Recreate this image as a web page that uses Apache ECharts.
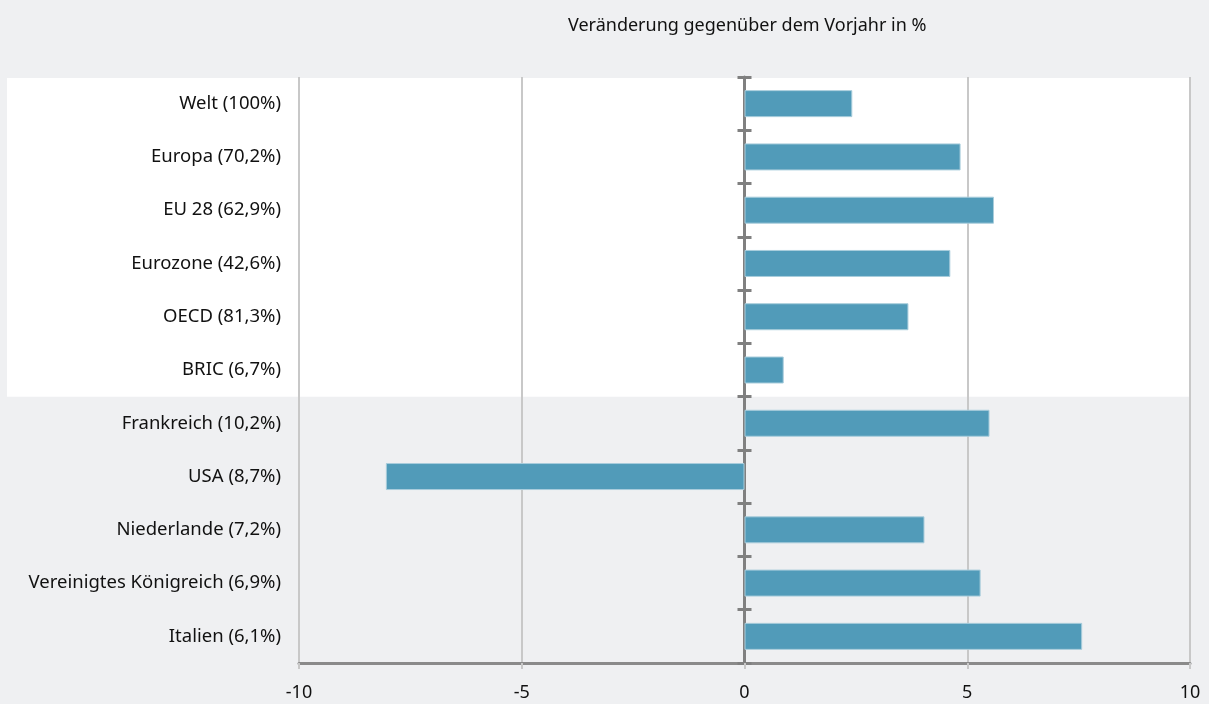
<!DOCTYPE html>
<html>
  <head>
    <meta charset="utf-8">
    <title>Veränderung gegenüber dem Vorjahr</title>
    <script src="https://cdn.jsdelivr.net/npm/echarts@6/dist/echarts.min.js"></script>
    <style>
      html, body { margin: 0; padding: 0; background: #eff0f2; }
      #chart { width: 1209px; height: 704px; }
    </style>
  </head>
  <body>
    <div id="chart"></div>
  </body>
  <script>
    // Länder / Regionen (Anteil in Klammern)
    var categories = ['Welt (100%)', 'Europa (70,2%)', 'EU 28 (62,9%)', 'Eurozone (42,6%)', 'OECD (81,3%)', 'BRIC (6,7%)',
                      'Frankreich (10,2%)', 'USA (8,7%)', 'Niederlande (7,2%)', 'Vereinigtes Königreich (6,9%)', 'Italien (6,1%)'];
    // Veränderung in %
    var values = [2.42, 4.85, 5.6, 4.62, 3.68, 0.88, 5.5, -8.05, 4.04, 5.3, 7.58];
    var xTicks = [-10, -5, 0, 5, 10];
    var highlightCount = 6; // erste Gruppe mit weißem Hintergrund

    var font = '"Noto Sans", sans-serif';
    var myChart = echarts.init(document.getElementById('chart'));
    var option = {
      backgroundColor: '#eff0f2',
      animation: false,
      title: {
        text: 'Veränderung gegenüber dem Vorjahr in %',
        left: 563,
        top: 12,
        textStyle: { fontFamily: font, fontSize: 18, fontWeight: 'normal', color: '#111111' }
      },
      grid: { left: 299, right: 19, top: 77, bottom: 41 },
      xAxis: {
        type: 'value',
        min: xTicks[0],
        max: xTicks[xTicks.length - 1],
        interval: 5,
        axisLine: { show: true, onZero: false, lineStyle: { color: '#8a8a8a', width: 3 } },
        axisTick: { show: true, length: 6, lineStyle: { color: '#c8c8c8', width: 2 } },
        splitLine: { show: true, lineStyle: { color: '#c8c8c8', width: 2 } },
        axisLabel: { fontFamily: font, fontSize: 18, color: '#111111', margin: 21 }
      },
      yAxis: [
        {
          // Beschriftung links
          type: 'category',
          data: categories,
          inverse: true,
          axisLine: { show: false, onZero: false },
          axisTick: { show: false },
          axisLabel: { fontFamily: font, fontSize: 18.5, color: '#111111', margin: 18 }
        },
        {
          // Achse bei 0, Striche nach rechts
          type: 'category',
          data: categories,
          inverse: true,
          position: 'right',
          axisLine: { show: true, onZero: true, onZeroAxisIndex: 0, lineStyle: { color: '#808080', width: 3 } },
          axisTick: { show: true, length: 7, lineStyle: { color: '#808080', width: 3 } },
          axisLabel: { show: false }
        },
        {
          // Striche nach links
          type: 'category',
          data: categories,
          inverse: true,
          position: 'left',
          axisLine: { show: false, onZero: true, onZeroAxisIndex: 0 },
          axisTick: { show: true, length: 7, lineStyle: { color: '#808080', width: 3 } },
          axisLabel: { show: false }
        }
      ],
      series: [
        {
          type: 'bar',
          yAxisIndex: 0,
          data: values,
          barWidth: 27,
          itemStyle: { color: '#519bb9', borderColor: '#a9cddc', borderWidth: 1 },
          z: 1
        }
      ]
    };
    myChart.setOption(option);

    // weißer Hintergrundstreifen hinter der ersten Gruppe
    var yFirst = myChart.convertToPixel({ yAxisIndex: 0 }, categories[0]);
    var ySecond = myChart.convertToPixel({ yAxisIndex: 0 }, categories[1]);
    var step = ySecond - yFirst;
    var yTop = yFirst - step / 2;
    var yBottom = yTop + step * highlightCount;
    var xRight = myChart.convertToPixel({ xAxisIndex: 0 }, xTicks[xTicks.length - 1]);
    myChart.setOption({
      graphic: [{
        type: 'rect',
        z: -10,
        silent: true,
        shape: { x: 7, y: yTop + 1, width: xRight - 7, height: yBottom - yTop - 1 },
        style: { fill: '#ffffff' }
      }]
    });
  </script>
</html>
